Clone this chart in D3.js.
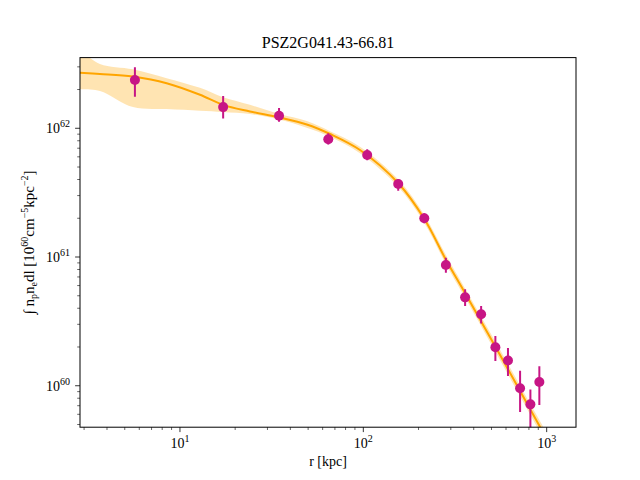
<!DOCTYPE html>
<html>
<head>
<meta charset="utf-8">
<script src="https://cdn.jsdelivr.net/npm/d3@7"></script>
<style>
body { margin: 0; background: #fff; }
text { font-family: "Liberation Serif", "DejaVu Serif", serif; fill: #000; }
</style>
</head>
<body>
<div class="chart"></div>
<script>
// data points: radius [kpc], value, error bar low/high
var pointR = [5.68, 17.2, 34.7, 64.4, 105, 155, 215, 282, 359, 439, 525, 615, 716, 815, 912]
var pointVal = [2.37e62, 1.46e62, 1.25e62, 8.22e61, 6.2e61, 3.69e61, 2.0e61, 8.67e60, 4.86e60, 3.59e60, 1.99e60, 1.57e60, 9.55e59, 7.17e59, 1.07e60]
var pointLo = [1.76e62, 1.19e62, 1.125e62, 7.47e61, 5.65e61, 3.27e61, 1.83e61, 7.55e60, 4.16e60, 3.05e60, 1.56e60, 1.19e60, 6.24e59, 3.5e59, 7.08e59]
var pointHi = [2.98e62, 1.78e62, 1.44e62, 9.15e61, 6.87e61, 4.02e61, 2.19e61, 9.89e60, 5.61e60, 4.16e60, 2.43e60, 1.96e60, 1.31e60, 9.33e59, 1.42e60]

// model curve and its band
var modelR = [2.85, 3.66, 5.54, 8.46, 12.86, 17.17, 24.09, 34.69, 49.12, 65.8, 95.9, 155.2, 215.2, 282.6, 358.7, 556.9, 920.4, 1183]
var modelVal = [2.70e62, 2.64e62, 2.52e62, 2.24e62, 1.82e62, 1.52e62, 1.351e62, 1.213e62, 1.07e62, 9.03e61, 6.78e61, 3.74e61, 1.974e61, 9.48e60, 5.25e60, 1.732e60, 4.78e59, 2.51e59]
var bandHi = [4.06e62, 3.16e62, 2.87e62, 2.45e62, 2.06e62, 1.74e62, 1.52e62, 1.29e62, 1.14e62, 9.5e61, 7.2e61, 4.0e61, 2.12e61, 1.03e61, 5.7e60, 1.9e60, 5.3e59, 2.8e59]
var bandLo = [2.01e62, 1.95e62, 1.46e62, 1.41e62, 1.37e62, 1.34e62, 1.29e62, 1.17e62, 1.01e62, 8.6e61, 6.4e61, 3.5e61, 1.84e61, 8.75e60, 4.84e60, 1.58e60, 4.33e59, 2.25e59]

var xTicks = [10, 100, 1000]
var xTickExp = ["1", "2", "3"]
var yTicks = [1e60, 1e61, 1e62]
var yTickExp = ["60", "61", "62"]

var width = 640, height = 480
var axL = 80, axR = 576, axT = 57.6, axB = 427.2

var svg = d3.select(".chart").append("svg").attr("width", width).attr("height", height)

var x = d3.scaleLog().domain([2.85, 1445]).range([axL, axR])
var y = d3.scaleLog().domain([10 ** 59.678, 10 ** 62.549]).range([axB, axT])

svg.append("clipPath").attr("id", "clip").append("rect")
    .attr("x", axL).attr("y", axT).attr("width", axR - axL).attr("height", axB - axT)

var plot = svg.append("g").attr("clip-path", "url(#clip)")

var idx = d3.range(modelR.length)

// band
var area = d3.area()
    .x(function(i){ return x(modelR[i]) })
    .y0(function(i){ return y(bandLo[i]) })
    .y1(function(i){ return y(bandHi[i]) })
    .curve(d3.curveCatmullRom.alpha(0.5))
plot.append("path").datum(idx).attr("d", area)
    .attr("fill", "#ffa500").attr("fill-opacity", 0.3).attr("stroke", "none")

// model line
var line = d3.line()
    .x(function(i){ return x(modelR[i]) })
    .y(function(i){ return y(modelVal[i]) })
    .curve(d3.curveCatmullRom.alpha(0.5))
plot.append("path").datum(idx).attr("d", line)
    .attr("fill", "none").attr("stroke", "#ffa500").attr("stroke-width", 2)

// error bars
var pidx = d3.range(pointR.length)
plot.selectAll("line.err").data(pidx).enter().append("line")
    .attr("x1", function(i){ return x(pointR[i]) })
    .attr("x2", function(i){ return x(pointR[i]) })
    .attr("y1", function(i){ return y(pointLo[i]) })
    .attr("y2", function(i){ return y(pointHi[i]) })
    .attr("stroke", "#c71585").attr("stroke-width", 2)
plot.selectAll("circle").data(pidx).enter().append("circle")
    .attr("cx", function(i){ return x(pointR[i]) })
    .attr("cy", function(i){ return y(pointVal[i]) })
    .attr("r", 5)
    .attr("fill", "#c71585")

// axes frame
svg.append("rect").attr("x", axL).attr("y", axT).attr("width", axR - axL).attr("height", axB - axT)
    .attr("fill", "none").attr("stroke", "#000").attr("stroke-width", 1)

// x ticks
var xMinor = []
var xdom = x.domain()
for (var e = 0; e < 4; e++) {
    for (var m = 2; m < 10; m++) {
        var v = m * 10 ** e
        if (v > xdom[0] && v < xdom[1]) xMinor.push(v)
    }
}
svg.selectAll("line.xminor").data(xMinor).enter().append("line")
    .attr("x1", function(d){ return x(d) }).attr("x2", function(d){ return x(d) })
    .attr("y1", axB).attr("y2", axB + 2.8)
    .attr("stroke", "#000").attr("stroke-width", 0.6)
svg.selectAll("line.xmajor").data(xTicks).enter().append("line")
    .attr("x1", function(d){ return x(d) }).attr("x2", function(d){ return x(d) })
    .attr("y1", axB).attr("y2", axB + 4.9)
    .attr("stroke", "#000").attr("stroke-width", 0.8)
var xl = svg.selectAll("text.xtick").data(xTicks).enter().append("text")
    .attr("x", function(d){ return x(d) }).attr("y", axB + 21)
    .attr("text-anchor", "middle").attr("font-size", "14px")
xl.append("tspan").text("10")
xl.append("tspan").attr("dy", -6).attr("font-size", "10px").text(function(d, i){ return xTickExp[i] })

// y ticks
var yMinor = []
for (var e2 = 59; e2 < 63; e2++) {
    for (var m2 = 2; m2 < 10; m2++) {
        var v2 = m2 * 10 ** e2
        if (v2 > y.domain()[0] && v2 < y.domain()[1]) yMinor.push(v2)
    }
}
svg.selectAll("line.yminor").data(yMinor).enter().append("line")
    .attr("y1", function(d){ return y(d) }).attr("y2", function(d){ return y(d) })
    .attr("x1", axL).attr("x2", axL - 2.8)
    .attr("stroke", "#000").attr("stroke-width", 0.6)
svg.selectAll("line.ymajor").data(yTicks).enter().append("line")
    .attr("y1", function(d){ return y(d) }).attr("y2", function(d){ return y(d) })
    .attr("x1", axL).attr("x2", axL - 4.9)
    .attr("stroke", "#000").attr("stroke-width", 0.8)
var yl = svg.selectAll("text.ytick").data(yTicks).enter().append("text")
    .attr("x", axL - 10).attr("y", function(d){ return y(d) + 5 })
    .attr("text-anchor", "end").attr("font-size", "14px")
yl.append("tspan").text("10")
yl.append("tspan").attr("dy", -6).attr("font-size", "10px").text(function(d, i){ return yTickExp[i] })

// title and labels
svg.append("text").attr("x", (axL + axR) / 2).attr("y", 48)
    .attr("text-anchor", "middle").attr("font-size", "16px").text("PSZ2G041.43-66.81")

svg.append("text").attr("x", (axL + axR) / 2).attr("y", 466)
    .attr("text-anchor", "middle").attr("font-size", "14px").text("r [kpc]")

var ylab = svg.append("text").attr("transform", "translate(34," + ((axT + axB) / 2) + ") rotate(-90)")
    .attr("text-anchor", "middle").attr("font-size", "15px")
ylab.append("tspan").text("∫ n")
ylab.append("tspan").attr("dy", 3).attr("font-size", "10px").text("p")
ylab.append("tspan").attr("dy", -3).text("n")
ylab.append("tspan").attr("dy", 3).attr("font-size", "10px").text("e")
ylab.append("tspan").attr("dy", -3).text("dl [10")
ylab.append("tspan").attr("dy", -6).attr("font-size", "10px").text("60")
ylab.append("tspan").attr("dy", 6).text("cm")
ylab.append("tspan").attr("dy", -6).attr("font-size", "10px").text("−5")
ylab.append("tspan").attr("dy", 6).text("kpc")
ylab.append("tspan").attr("dy", -6).attr("font-size", "10px").text("−2")
ylab.append("tspan").attr("dy", 6).text("]")
</script>
</body>
</html>
